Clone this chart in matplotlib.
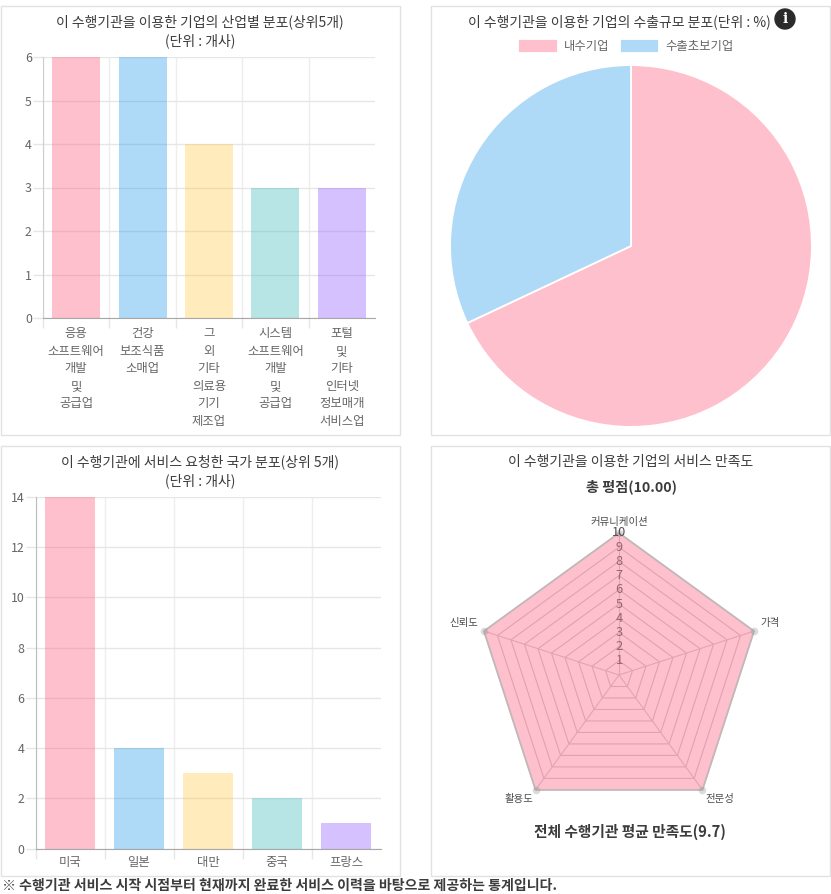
import numpy as np
import matplotlib
matplotlib.use("Agg")
import matplotlib.pyplot as plt
from matplotlib.patches import Circle, Rectangle

plt.rcParams["font.family"] = ["Noto Sans CJK KR", "DejaVu Sans"]

W, H = 831, 894

# ----------------------------
# Data
# ----------------------------
industry_labels = [
    "응용\n소프트웨어\n개발\n및\n공급업",
    "건강\n보조식품\n소매업",
    "그\n외\n기타\n의료용\n기기\n제조업",
    "시스템\n소프트웨어\n개발\n및\n공급업",
    "포털\n및\n기타\n인터넷\n정보매개\n서비스업",
]
industry_counts = [6, 6, 4, 3, 3]

export_labels = ["내수기업", "수출초보기업"]
export_shares = [68, 32]

country_labels = ["미국", "일본", "대만", "중국", "프랑스"]
country_counts = [14, 4, 3, 2, 1]

radar_labels = ["커뮤니케이션", "가격", "전문성", "활용도", "신뢰도"]
radar_scores = [10, 10, 10, 10, 10]

# chart palette
bar_colors = [
    (1.0, 0.388, 0.518, 0.4),
    (0.212, 0.635, 0.922, 0.4),
    (1.0, 0.808, 0.337, 0.4),
    (0.294, 0.753, 0.753, 0.4),
    (0.6, 0.4, 1.0, 0.4),
]
GRID = "#e6e6e6"
AXIS = "#a8a8a8"
LABEL = "#666666"
TITLE = "#3c3c3c"


def px_axes(x0, y0, x1, y1, **kw):
    # axes placed by its pixel box, y measured from the top
    return fig.add_axes([x0 / W, 1 - y1 / H, (x1 - x0) / W, (y1 - y0) / H], **kw)


def bar_panel(box, counts, labels, ymax, step, pad, left_color):
    ax = px_axes(*box)
    x = np.arange(len(counts))
    ax.bar(x, counts, width=0.72, color=bar_colors[: len(counts)], zorder=3)
    ax.set_xlim(-0.5, len(counts) - 0.5)
    ax.set_ylim(0, ymax)
    ax.set_yticks(np.arange(0, ymax + 1, step))
    ax.set_xticks(x)
    ax.set_xticklabels(labels, fontsize=8.9, color=LABEL, linespacing=1.46)
    ax.set_xticks(np.arange(-0.5, len(counts) - 1), minor=True)
    ax.tick_params(axis="x", which="major", length=0, pad=pad)
    ax.tick_params(axis="x", which="minor", length=7, width=1, color=GRID)
    ax.tick_params(axis="y", length=7, width=1, color=GRID, labelsize=8.9,
                   labelcolor=LABEL, pad=1)
    ax.grid(True, axis="y", color=GRID, linewidth=1, zorder=0)
    ax.grid(True, axis="x", which="minor", color="#eeeeee", linewidth=1, zorder=0)
    ax.set_axisbelow(True)
    for side in ("top", "right"):
        ax.spines[side].set_visible(False)
    ax.spines["left"].set_color(left_color)
    ax.spines["bottom"].set_color(AXIS)
    return ax


fig = plt.figure(figsize=(W / 100, H / 100), dpi=100, facecolor="white")

# page layer for the panel frames and free text, in pixels
page = fig.add_axes([0, 0, 1, 1])
page.set_xlim(0, W)
page.set_ylim(H, 0)
page.axis("off")
for x0, y0, x1, y1 in [(1, 6, 400, 435), (431, 6, 830, 435),
                       (1, 446, 400, 876), (431, 446, 830, 876)]:
    page.add_patch(Rectangle((x0 - 0.5, y0 - 0.5), x1 - x0, y1 - y0, fill=False,
                             edgecolor="#e2e2e2", linewidth=1))


def page_text(x, y, s, size=10.0, color=TITLE, weight="normal", ha="center"):
    page.text(x, y + 1.2, s, fontsize=size, color=color, fontweight=weight, ha=ha, va="center")


# ----------------------------
# Industry bars
# ----------------------------
bar_panel((43, 57, 375, 318), industry_counts, industry_labels, 6, 1, 6.5, "#cfcfcf")
page_text(200, 21, "이 수행기관을 이용한 기업의 산업별 분포(상위5개)")
page_text(200, 40, "(단위 : 개사)")

# ----------------------------
# Export share pie
# ----------------------------
pie_ax = px_axes(451, 66, 811, 426)
wedges, _ = pie_ax.pie(export_shares, colors=bar_colors[:2], startangle=90, counterclock=False,
                       radius=1, wedgeprops={"edgecolor": "white", "linewidth": 1.3})
pie_ax.set_xlim(-0.995, 0.995)
pie_ax.set_ylim(-0.995, 0.995)
page_text(619, 21, "이 수행기관을 이용한 기업의 수출규모 분포(단위 : %)")
page.add_patch(Circle((785, 19), 10, color="#2b2b2b"))
page.text(785, 19, "i", fontsize=10, fontweight="bold", color="white", ha="center",
          va="center", family="DejaVu Serif")
fig.legend(wedges, export_labels, ncol=2, frameon=False, fontsize=8.9, labelcolor=LABEL,
           loc="center", bbox_to_anchor=(626 / W, 1 - 46 / H), handlelength=3.2,
           handleheight=1.4, handletextpad=0.5, columnspacing=0.8, borderpad=0)

# ----------------------------
# Requesting country bars
# ----------------------------
bar_panel((35.5, 497, 380.5, 848.5), country_counts, country_labels, 14, 2, 5.5, "#b5bfc0")
page_text(200, 461, "이 수행기관에 서비스 요청한 국가 분포(상위 5개)")
page_text(200, 480, "(단위 : 개사)")

# ----------------------------
# Satisfaction radar
# ----------------------------
radar_ax = px_axes(477, 533, 761, 817, projection="polar")
radar_ax.set_theta_offset(np.pi / 2)
radar_ax.set_theta_direction(-1)
radar_ax.set_ylim(0, 10)
radar_ax.axis("off")
angles = np.linspace(0, 2 * np.pi, len(radar_scores), endpoint=False)
closed = np.append(angles, angles[0])
for level in range(1, 11):
    radar_ax.plot(closed, [level] * len(closed), color="#cccccc", linewidth=0.8, zorder=1,
                  clip_on=False)
    radar_ax.text(0, level, str(level), fontsize=9.2, color="#96646f" if level < 10 else "#5a4a4e",
                  ha="center", va="center", zorder=5)
for a in angles:
    radar_ax.plot([a, a], [0, 10], color="#d0d0d0", linewidth=0.8, zorder=1)
scores = np.append(radar_scores, radar_scores[0])
radar_ax.fill(closed, scores, color=(1.0, 0.388, 0.518, 0.4), zorder=2, clip_on=False,
              linewidth=0)
radar_ax.plot(closed, scores, color="#c2b8ba", linewidth=1.3, zorder=3, clip_on=False)
radar_ax.plot(angles, radar_scores, "o", color="#999999", alpha=0.35, markersize=5.5,
              markeredgewidth=0, zorder=4, clip_on=False)
for label, (x, y, ha) in zip(radar_labels, [(619, 521, "center"), (760, 622, "left"),
                                            (705, 798, "left"), (533, 798, "right"),
                                            (478, 622, "right")]):
    page_text(x, y, label, size=7.5, color="#4d4d4d", ha=ha)
page_text(631, 461, "이 수행기관을 이용한 기업의 서비스 만족도")
page_text(631, 486, "총 평점(10.00)", size=10.2, weight="bold")
page_text(630, 831, "전체 수행기관 평균 만족도(9.7)", size=10.6, weight="bold")

# ----------------------------
# Footnote
# ----------------------------
page_text(2, 885, "※ 수행기관 서비스 시작 시점부터 현재까지 완료한 서비스 이력을 바탕으로 제공하는 통계입니다.",
          size=10.05, weight="bold", ha="left")

fig.savefig("out.png", dpi=100)
